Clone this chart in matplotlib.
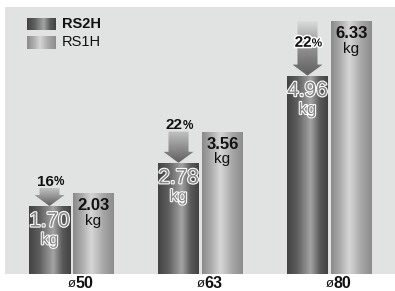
import numpy as np
import matplotlib
matplotlib.use("Agg")
import matplotlib.pyplot as plt
from matplotlib.colors import LinearSegmentedColormap
from matplotlib.patches import Polygon, Rectangle
import matplotlib.patheffects as pe

plt.rcParams['font.family'] = ['Liberation Sans', 'DejaVu Sans']

categories = ["50", "63", "80"]
series_names = ["RS2H", "RS1H"]
rs2h = [1.70, 2.78, 4.96]
rs1h = [2.03, 3.56, 6.33]
reductions = ["16", "22", "22"]

W, H = 395, 291
fig = plt.figure(figsize=(W / 100, H / 100), dpi=100)
ax = fig.add_axes([5 / W, 17 / H, 390 / W, 267 / H])
ax.set_facecolor('#e1e2e2')
for s in ax.spines.values():
    s.set_visible(False)
ax.set_xticks([])
ax.set_yticks([])

cm_dark = LinearSegmentedColormap.from_list('d', [(0, '#434343'), (0.25, '#5e5e5e'), (0.58, '#a4a4a4'), (0.8, '#5a5a5a'), (1, '#424242')])
cm_light = LinearSegmentedColormap.from_list('l', [(0, '#8a8a8a'), (0.2, '#a8a8a8'), (0.45, '#d6d6d6'), (0.75, '#a6a6a6'), (1, '#8c8c8c')])
cm_arrow = LinearSegmentedColormap.from_list('a', [(0, '#5e5e5e'), (1, '#c2c2c2')])
grad_h = np.linspace(0, 1, 256).reshape(1, -1)
grad_v = np.linspace(0, 1, 256).reshape(-1, 1)

x = np.arange(len(categories))
bw = 41 / 129
off = 22 / 129

def grad_fill(patch, cmap, vertical=False):
    if isinstance(patch, Rectangle):
        bb = patch.get_path().get_extents(patch.get_patch_transform())
    else:
        bb = patch.get_path().get_extents()
    img = grad_v if vertical else grad_h
    im = ax.imshow(img, cmap=cmap, aspect='auto', origin='lower',
                   extent=[bb.x0, bb.x1, bb.y0, bb.y1], zorder=patch.get_zorder(),
                   interpolation='bilinear')
    im.set_clip_path(patch)

bars2 = ax.bar(x - off, rs2h, bw, color='none', zorder=2)
bars1 = ax.bar(x + off, rs1h, bw, color='none', zorder=2)
for b in bars2:
    grad_fill(b, cm_dark)
for b in bars1:
    grad_fill(b, cm_light)

ymax = 267 / 40
ax.set_xlim(-66.5 / 129, 2 + 65.5 / 129)
ax.set_ylim(0, ymax)

outline = [pe.withStroke(linewidth=2.2, foreground='white')]
for i in range(len(categories)):
    # RS1H labels
    ax.annotate(f"{rs1h[i]:.2f}", (x[i] + off, rs1h[i]), xytext=(0, -4), textcoords='offset points',
                ha='center', va='top', fontsize=12, fontweight='bold', color='#111111', zorder=5)
    ax.annotate("kg", (x[i] + off, rs1h[i]), xytext=(0, -15), textcoords='offset points',
                ha='center', va='top', fontsize=11, color='#111111', zorder=5)
    # RS2H labels
    t = ax.annotate(f"{rs2h[i]:.2f}", (x[i] - off, rs2h[i]), xytext=(0, -4), textcoords='offset points',
                    ha='center', va='top', fontsize=15, color='#858585', zorder=5)
    t.set_path_effects([pe.Stroke(linewidth=1.6, foreground='white'), pe.Normal()])
    t = ax.annotate("kg", (x[i] - off, rs2h[i]), xytext=(0, -19), textcoords='offset points',
                    ha='center', va='top', fontsize=12, color='#858585', zorder=5)
    t.set_path_effects([pe.Stroke(linewidth=1.5, foreground='white'), pe.Normal()])

    # arrow
    cx = x[i] - off
    tip = rs2h[i]
    top = max(rs1h[i], rs2h[i] + 0.45)
    head_h = 11 / 40
    sw = 10 / 129
    hw = 15 / 129
    verts = [(cx - sw, top), (cx + sw, top), (cx + sw, tip + head_h), (cx + hw, tip + head_h),
             (cx, tip), (cx - hw, tip + head_h), (cx - sw, tip + head_h)]
    poly = Polygon(verts, closed=True, facecolor='none', edgecolor='none', zorder=3)
    ax.add_patch(poly)
    long_arrow = (top - tip) > 1.0
    if long_arrow:
        cm_use = LinearSegmentedColormap.from_list('a2', [(0, '#5e5e5e'), (0.6, '#9a9a9a'), (1, '#dcdcdc')])
    else:
        cm_use = cm_arrow
    grad_fill(poly, cm_use, vertical=True)

    ty = top - 0.55 if long_arrow else top + 0.16
    t1 = ax.annotate(reductions[i], (cx, ty), xytext=(3, 0), textcoords='offset points',
                     ha='right', va='center', fontsize=11, fontweight='bold', color='#111111', zorder=6)
    t2 = ax.annotate("%", (cx, ty), xytext=(3, -0.5), textcoords='offset points',
                     ha='left', va='center', fontsize=8.5, fontweight='bold', color='#111111', zorder=6)
    if long_arrow:
        t1.set_path_effects(outline)
        t2.set_path_effects(outline)

    # x labels
    ax.annotate(categories[i], (x[i], 0), xytext=(3, -7), textcoords='offset points',
                ha='left', va='center', fontsize=11.5, fontweight='bold', color='#111111',
                annotation_clip=False)
    ax.annotate("ø", (x[i], 0), xytext=(3, -7.5), textcoords='offset points',
                ha='right', va='center', fontsize=9.5, color='#111111', annotation_clip=False)

# legend
sw1 = Rectangle((22 / 390, 1 - 23 / 267), 29 / 390, 12 / 267, transform=ax.transAxes,
                facecolor='none', edgecolor='none', zorder=4)
sw2 = Rectangle((22 / 390, 1 - 42 / 267), 29 / 390, 13 / 267, transform=ax.transAxes,
                facecolor='none', edgecolor='none', zorder=4)
for r, cm in ((sw1, cm_dark), (sw2, cm_light)):
    ax.add_patch(r)
    im = ax.imshow(grad_h, cmap=cm, aspect='auto',
                   extent=[r.get_x(), r.get_x() + r.get_width(), r.get_y(), r.get_y() + r.get_height()],
                   transform=ax.transAxes, zorder=4, interpolation='bilinear')
    im.set_clip_path(r)
ax.text(57 / 390, 1 - 17 / 267, series_names[0], transform=ax.transAxes, ha='left', va='center',
        fontsize=10.5, fontweight='bold', color='#111111')
ax.text(57 / 390, 1 - 35.5 / 267, series_names[1], transform=ax.transAxes, ha='left', va='center',
        fontsize=10.5, color='#111111')

ax.set_xlim(-66.5 / 129, 2 + 65.5 / 129)
ax.set_ylim(0, ymax)
fig.savefig("out.png", dpi=100)
